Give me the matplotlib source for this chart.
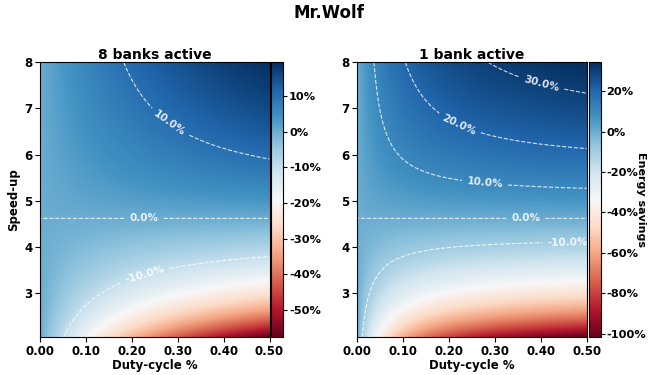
import numpy as np
import matplotlib
matplotlib.use("Agg")
import matplotlib.pyplot as plt

plt.rcParams['font.family'] = ['DejaVu Sans']
plt.rcParams['font.weight'] = 'bold'
plt.rcParams['axes.labelweight'] = 'bold'
plt.rcParams['axes.titleweight'] = 'bold'

# panels and model values
titles = ["8 banks active", "1 bank active"]
active_ratio = [1.7, 8.6]        # (active - sleep) / sleep power of baseline
breakeven_speedup = 4.62         # speed-up where savings = 0
contour_levels = [[-10, 0, 10], [-10, 0, 10, 20, 30]]
label_pos = [
    [(0.287, 6.74), (0.227, 4.63), (0.227, 3.47)],
    [(0.458, 4.12), (0.367, 4.63), (0.278, 5.41), (0.223, 6.67), (0.405, 7.65)],
]
duty_range = (0.0, 0.5)
speed_range = (2.05, 8.0)

duty = np.linspace(duty_range[0], duty_range[1], 300)
speed = np.linspace(speed_range[0], speed_range[1], 300)
D, S = np.meshgrid(duty, speed)

fig = plt.figure(figsize=(6.57, 3.75), dpi=100)
fig.suptitle("Mr.Wolf", fontsize=12, fontweight='bold', y=0.99)

ax_rects = [[0.0609, 0.1013, 0.3493, 0.7325], [0.5440, 0.1013, 0.3492, 0.7325]]
cb_rects = [[0.4125, 0.1013, 0.0190, 0.7325], [0.8958, 0.1013, 0.0183, 0.7325]]

for i in range(2):
    k = active_ratio[i]
    savings = 100 * k * D * (1 - breakeven_speedup / S) / (1 + k * D)

    ax = fig.add_axes(ax_rects[i])
    im = ax.imshow(savings, origin='lower', aspect='auto', cmap='RdBu',
                   extent=[duty_range[0], duty_range[1], speed_range[0], speed_range[1]])
    cs = ax.contour(D, S, savings, levels=contour_levels[i],
                    colors=[(1, 1, 1, 0.8)], linestyles='dashed', linewidths=0.8)
    lab = ax.clabel(cs, fmt='%.1f%%', fontsize=7.5, inline=True, manual=label_pos[i])
    for t in lab:
        t.set_fontweight('bold')
        t.set_color((1, 1, 1, 0.85))

    ax.set_xlim(duty_range)
    ax.set_ylim(speed_range)
    ax.set_xticks([0.0, 0.1, 0.2, 0.3, 0.4, 0.5])
    ax.set_xticklabels(["%.2f" % v for v in [0.0, 0.1, 0.2, 0.3, 0.4, 0.5]])
    ax.set_yticks([3, 4, 5, 6, 7, 8])
    ax.tick_params(labelsize=8.5, pad=2)
    ax.set_xlabel("Duty-cycle %", fontsize=8.5, labelpad=1)
    if i == 0:
        ax.set_ylabel("Speed-up", fontsize=8.5, labelpad=3)
    ax.set_title(titles[i], fontsize=10, pad=2)

    cax = fig.add_axes(cb_rects[i])
    cb = fig.colorbar(im, cax=cax, format='%d%%')
    cb.ax.tick_params(labelsize=8.2, pad=1, length=3)
    if i == 1:
        cb.set_label("Energy savings", rotation=270, fontsize=8, labelpad=0)

fig.savefig("out.png", dpi=100)
